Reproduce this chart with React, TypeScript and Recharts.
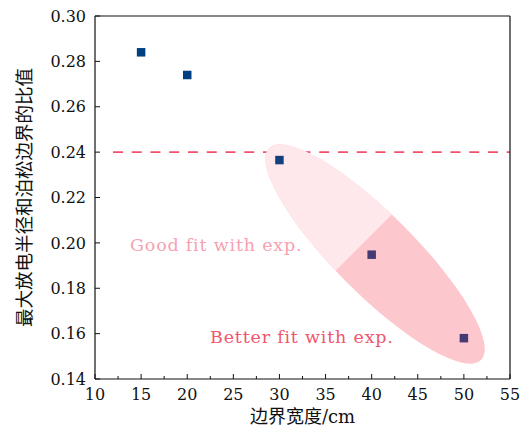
import React from 'react';
import { ScatterChart, Scatter, XAxis, YAxis, ReferenceLine, ReferenceDot, Label } from 'recharts';

// ---- data ----
const boundaryWidths = [15, 20, 30, 40, 50];
const dischargeRatios = [0.284, 0.274, 0.2365, 0.1948, 0.158];
const markerColors = ['#023f80', '#023f80', '#13417e', '#443b74', '#443b74'];

const xTicks = [10, 12.5, 15, 17.5, 20, 22.5, 25, 27.5, 30, 32.5, 35, 37.5, 40, 42.5, 45, 47.5, 50, 52.5, 55];
const xMajorTicks = [10, 15, 20, 25, 30, 35, 40, 45, 50, 55];
const yTicks = [0.14, 0.16, 0.18, 0.2, 0.22, 0.24, 0.26, 0.28, 0.3];

const thresholdRatio = 0.24;
const thresholdStartX = 11;

// ellipse annotation: ends of its long axis (data units)
const ellipseEndsX = [28.87, 51.86];
const ellipseEndsY = [0.2418, 0.1484];

const goodFitText = 'Good fit with exp.';
const goodFitPos = { x: 13.8, y: 0.1964 };
const betterFitText = 'Better fit with exp.';
const betterFitPos = { x: 22.47, y: 0.1559 };

const xTitle = '边界宽度/cm';
const yTitle = '最大放电半径和泊松边界的比值';

const points = boundaryWidths.map((x, i) => ({ x, y: dischargeRatios[i], color: markerColors[i] }));
const ellipseEnds = ellipseEndsX.map((x, i) => ({ x, y: ellipseEndsY[i], end: i }));

const SERIF = "'DejaVu Serif', 'Noto Sans CJK SC', serif";
const CJK = "'DejaVu Serif', 'Noto Sans CJK SC', sans-serif";
const AXIS = '#111';

const ellipseStore: { cx: number; cy: number } = { cx: 0, cy: 0 };

const EllipseShape = (p: any) => {
  if (p.payload.end === 0) {
    ellipseStore.cx = p.cx;
    ellipseStore.cy = p.cy;
    return <g />;
  }
  const ax = ellipseStore.cx, ay = ellipseStore.cy;
  const bx = p.cx, by = p.cy;
  const mx = (ax + bx) / 2, my = (ay + by) / 2;
  const len = Math.hypot(bx - ax, by - ay);
  const a = len / 2;
  const b = a * 0.267;
  const ang = (Math.atan2(by - ay, bx - ax) * 180) / Math.PI;
  const d = -0.107 * a;
  const h = b * Math.sqrt(1 - (d / a) * (d / a));
  return (
    <g transform={`translate(${mx},${my}) rotate(${ang})`}>
      <ellipse cx={0} cy={0} rx={a} ry={b} fill="#fdc7ce" />
      <path d={`M ${d} ${-h} A ${a} ${b} 0 0 0 ${d} ${h} Z`} fill="#ffe8ec" />
    </g>
  );
};

const MarkerShape = (p: any) => {
  const s = 8.5;
  return <rect x={p.cx - s / 2} y={p.cy - s / 2} width={s} height={s} fill={p.payload.color} />;
};

const XTick = (p: any) => {
  const v = p.payload.value;
  const major = xMajorTicks.includes(v);
  return (
    <g>
      <line x1={p.x} x2={p.x} y1={p.y} y2={p.y - (major ? 5 : 3)} stroke={AXIS} strokeWidth={1} />
      {major && (
        <text x={p.x} y={p.y + 21} textAnchor="middle" fontFamily={SERIF} fontSize={16} fill="#111">
          {String(v)}
        </text>
      )}
    </g>
  );
};

const YTick = (p: any) => {
  const v = p.payload.value;
  return (
    <g>
      <line x1={p.x} x2={p.x + 5} y1={p.y} y2={p.y} stroke={AXIS} strokeWidth={1} />
      <text x={p.x - 9} y={p.y + 5.7} textAnchor="end" fontFamily={SERIF} fontSize={16} fill="#111">
        {v.toFixed(2)}
      </text>
    </g>
  );
};

const XTitle = (props: any) => {
  const vb = props.viewBox;
  return (
    <text x={vb.x + vb.width / 2} y={vb.y + 44} textAnchor="middle" fontFamily={CJK} fontSize={18} fill="#111">
      {xTitle}
    </text>
  );
};

const YTitle = (props: any) => {
  const vb = props.viewBox;
  const cx = 31;
  const cy = vb.y + vb.height / 2;
  return (
    <text
      x={cx}
      y={cy}
      textAnchor="middle"
      transform={`rotate(-90, ${cx}, ${cy})`}
      fontFamily={CJK}
      fontSize={18.5}
      fill="#111"
    >
      {yTitle}
    </text>
  );
};

const TextShape = (text: string, color: string) => (p: any) => (
  <text x={p.cx} y={p.cy} fontFamily={SERIF} fontSize={17.5} letterSpacing={0.8} fill={color} textAnchor="start">
    {text}
  </text>
);

export default function App() {
  return (
    <div style={{ position: 'absolute', left: 0, top: 0, width: 529, height: 435, background: '#fff' }}>
      <ScatterChart width={529} height={435} margin={{ top: 16, right: 19, bottom: 0, left: 0 }}>
        <XAxis
          type="number"
          dataKey="x"
          domain={[10, 55]}
          ticks={xTicks}
          interval={0}
          height={56}
          tickSize={0}
          tickMargin={0}
          tickLine={false}
          tick={<XTick />}
          axisLine={{ stroke: AXIS, strokeWidth: 1.2 }}
          allowDataOverflow
        >
          <Label content={<XTitle />} />
        </XAxis>
        <YAxis
          type="number"
          dataKey="y"
          domain={[0.14, 0.3]}
          ticks={yTicks}
          interval={0}
          width={95}
          tickSize={0}
          tickMargin={0}
          tickLine={false}
          tick={<YTick />}
          axisLine={{ stroke: AXIS, strokeWidth: 1.2 }}
          allowDataOverflow
        >
          <Label content={<YTitle />} />
        </YAxis>
        <Scatter data={ellipseEnds} shape={EllipseShape} isAnimationActive={false} />
        <ReferenceLine
          segment={[
            { x: thresholdStartX, y: thresholdRatio },
            { x: 55, y: thresholdRatio },
          ]}
          stroke="#f2506e"
          strokeWidth={1.7}
          strokeDasharray="10 8.75"
          strokeDashoffset={10}
        />
        <ReferenceLine y={0.3} stroke={AXIS} strokeWidth={1.2} />
        <ReferenceLine x={55} stroke={AXIS} strokeWidth={1.2} />
        <ReferenceDot x={goodFitPos.x} y={goodFitPos.y} r={0} shape={TextShape(goodFitText, '#f7a1b1')} />
        <ReferenceDot x={betterFitPos.x} y={betterFitPos.y} r={0} shape={TextShape(betterFitText, '#f0566f')} />
        <Scatter data={points} shape={MarkerShape} isAnimationActive={false} />
      </ScatterChart>
    </div>
  );
}
